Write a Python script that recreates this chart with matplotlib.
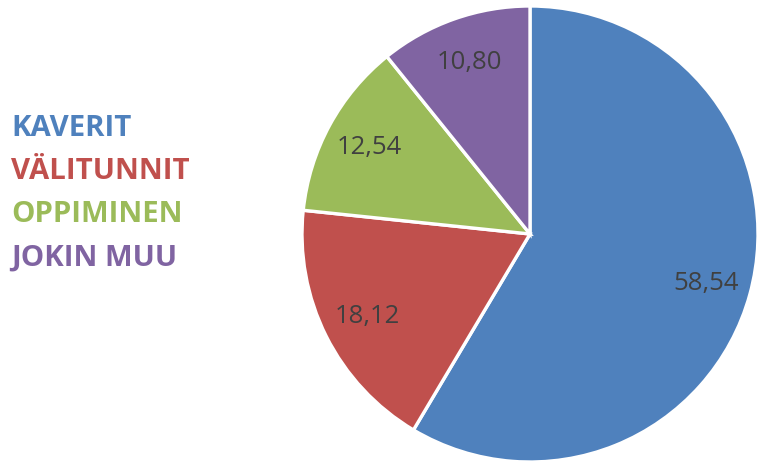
import matplotlib
matplotlib.use("Agg")
import matplotlib.pyplot as plt

categories = ["KAVERIT", "VÄLITUNNIT", "OPPIMINEN", "JOKIN MUU"]
values = [58.54, 18.12, 12.54, 10.80]
colors = ["#4F81BD", "#C0504D", "#9BBB59", "#8064A2"]

W, H = 757, 464
fig = plt.figure(figsize=(W / 100, H / 100), dpi=100, facecolor="white")
ax = fig.add_axes([0, 0, 1, 1])

cx, cy, R = 530, H - 235, 228
wedges, texts, autotexts = ax.pie(
    values, colors=colors, startangle=90, counterclock=False,
    center=(cx, cy), radius=R,
    autopct=lambda p: f"{p:.2f}".replace(".", ","), pctdistance=0.8,
    wedgeprops=dict(edgecolor="white", linewidth=2.4),
    textprops=dict(color="#404040", fontsize=18.5, family="Open Sans"),
)
ax.set_xlim(0, W)
ax.set_ylim(0, H)
ax.set_aspect("equal")
ax.axis("off")

# legend as coloured text lines on the left
for i, (name, c) in enumerate(zip(categories, colors)):
    ax.text(11, H - (128 + 43.3 * i), name, color=c, fontsize=21.2,
            fontweight="bold", family="Open Sans", ha="left", va="center")

fig.savefig("out.png", dpi=100, facecolor=fig.get_facecolor())
